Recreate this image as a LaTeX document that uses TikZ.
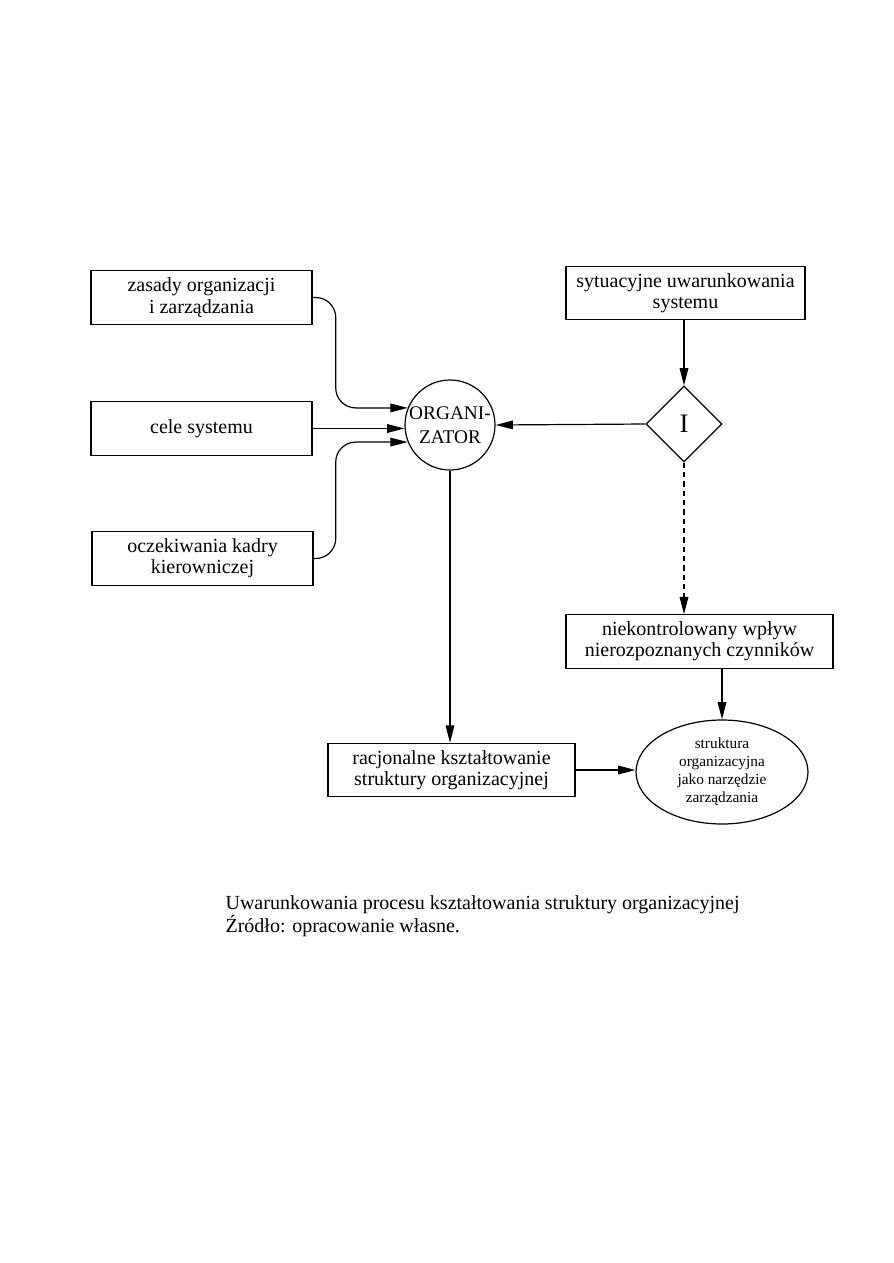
\documentclass[tikz,border=0pt]{standalone}
\usepackage{fontspec}
\setmainfont{Liberation Serif}
\usetikzlibrary{arrows.meta,positioning,calc,shapes.geometric}

\begin{document}
\begin{tikzpicture}[x=0.75pt,y=-0.75pt,line width=0.9pt,>={Triangle[length=13pt,width=6.5pt]},
  box/.style={draw,minimum height=40pt,align=center,inner sep=2pt,font=\fontsize{15}{16}\selectfont},
  every node/.style={text=black}]
\useasboundingbox (0,0) rectangle (893,1263);
% lewa kolumna
\node[box,minimum width=165.75pt] (zasady) at (201.5,297.5) {zasady organizacji\\i zarządzania};
\node[box,minimum width=165.75pt] (cele) at (201.5,428.5) {cele systemu};
\node[box,minimum width=165.75pt] (oczek) at (202.5,558.5) {oczekiwania kadry\\kierowniczej};
\node[draw,circle,minimum size=67.5pt,inner sep=0pt,align=center,font=\fontsize{14.5}{18}\selectfont] (org) at (450,425) {ORGANI-\\ZATOR};
% prawa kolumna
\node[box,minimum width=179.25pt] (sytu) at (685.5,293) {sytuacyjne uwarunkowania\\systemu};
\node[draw,diamond,minimum width=57pt,minimum height=57pt,inner sep=0pt,font=\fontsize{20}{20}\selectfont] (diam) at (684,424) {I};
\node[box,minimum width=200.25pt] (niek) at (699.5,641.5) {niekontrolowany wpływ\\nierozpoznanych czynników};
\node[draw,ellipse,minimum width=129pt,minimum height=78pt,inner sep=0pt,align=center,font=\fontsize{11.5}{13.5}\selectfont] (str) at (722,772) {struktura\\organizacyjna\\jako narzędzie\\zarządzania};
\node[box,minimum width=185.25pt] (racj) at (451.5,770) {racjonalne kształtowanie\\struktury organizacyjnej};
% podpis
\node[anchor=west,align=left,inner sep=0pt,font=\fontsize{15}{17.5}\selectfont] (podpis) at (225,916) {Uwarunkowania procesu kształtowania struktury organizacyjnej\\Źródło: opracowanie własne.};
% strzałki
\draw[->,rounded corners=15pt] (zasady.east) -| ($(org.158)+(-72,0)$) -- (org.158);
\draw[->] (cele.east) -- (cele.east -| org.west);
\draw[->,rounded corners=15pt] (oczek.east) -| ($(org.202)+(-72,0)$) -- (org.202);
\draw[->] (diam.west) -- (org.east);
\draw[->] (diam.north |- sytu.south) -- (diam.north);
\draw[->,dash pattern=on 4pt off 3pt] (diam.south) -- (diam.south |- niek.north);
\draw[->] (str.north |- niek.south) -- (str.north);
\draw[->] (org.south) -- (org.south |- racj.north);
\draw[->] (racj.east) -- (racj.east -| str.west);
\end{tikzpicture}
\end{document}
